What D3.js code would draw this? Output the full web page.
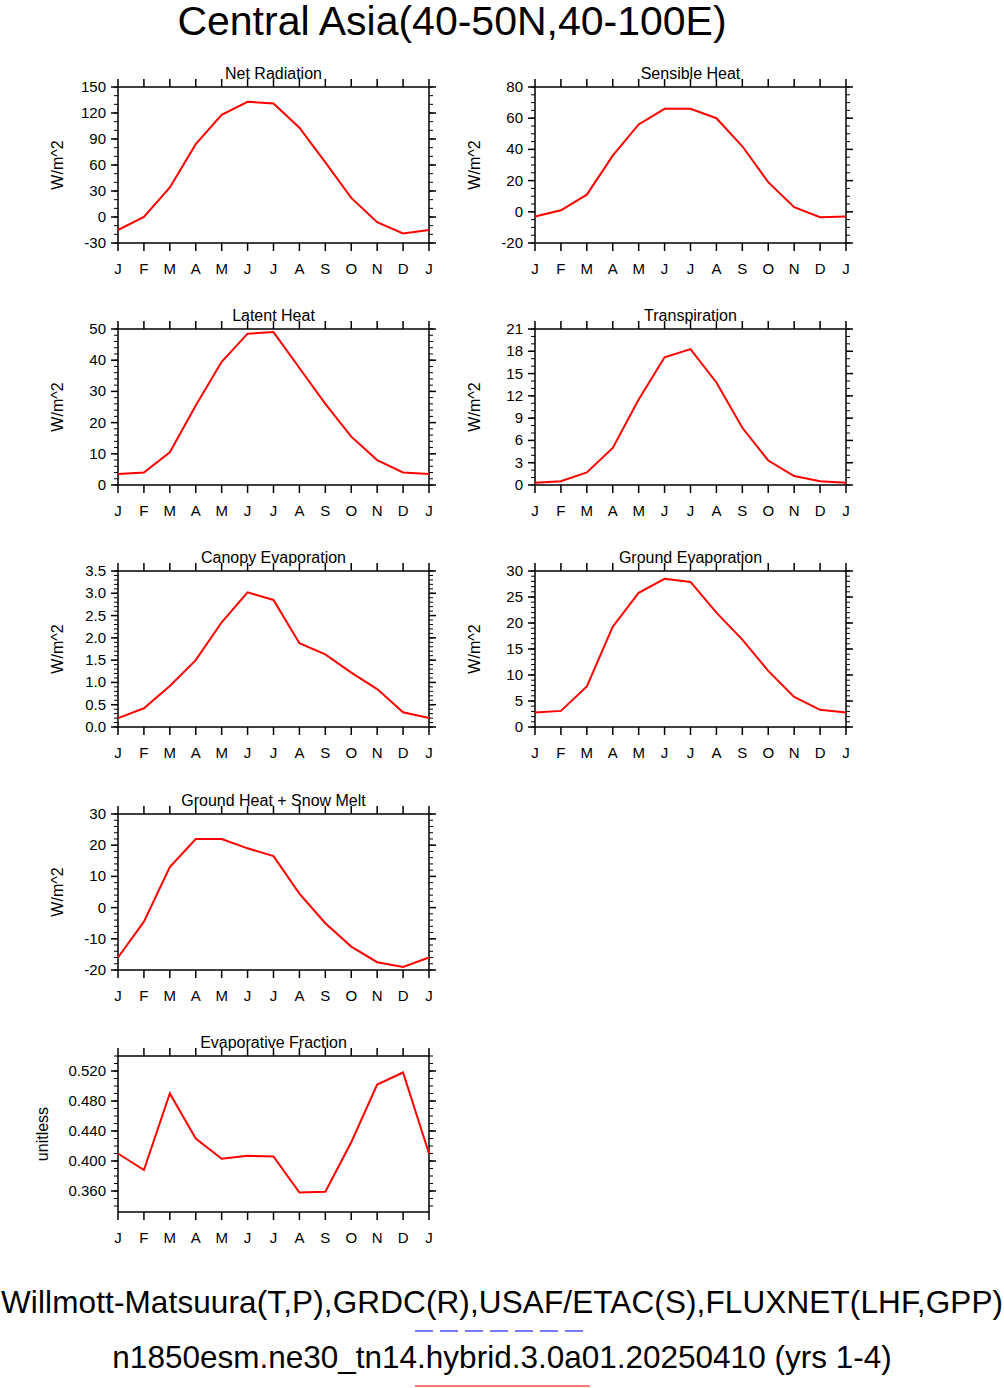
<!DOCTYPE html>
<html><head><meta charset="utf-8">
<script src="https://cdn.jsdelivr.net/npm/d3@7"></script>
<style>body{margin:0;background:#fff}text{font-family:Helvetica,"Liberation Sans",Arial,sans-serif}</style>
</head><body>
<script>
const months = ['J','F','M','A','M','J','J','A','S','O','N','D','J'];
const netRad = [-15, 0, 34, 84, 118, 133, 131, 103, 63, 22, -6, -19, -15];
const sensible = [-3, 1, 11, 36, 56, 66, 66, 60, 42, 19, 3, -3.5, -3];
const latent = [3.5, 4, 10.5, 25.5, 39.5, 48.5, 49, 37.5, 26, 15.5, 8, 4, 3.5];
const transp = [0.3, 0.5, 1.7, 5, 11.5, 17.2, 18.3, 13.8, 7.7, 3.3, 1.2, 0.5, 0.3];
const canopy = [0.2, 0.42, 0.92, 1.5, 2.35, 3.02, 2.85, 1.88, 1.63, 1.22, 0.85, 0.33, 0.2];
const groundEvap = [2.8, 3.1, 7.8, 19.3, 25.8, 28.5, 27.9, 22, 16.8, 10.8, 5.8, 3.3, 2.8];
const groundHeat = [-16, -4.5, 13, 22, 22, 19, 16.5, 4.5, -5, -12.5, -17.5, -19, -16];
const evapFrac = [0.410, 0.388, 0.490, 0.430, 0.403, 0.407, 0.406, 0.358, 0.359, 0.425, 0.502, 0.518, 0.410];

const fd = v => d3.format('d')(v).replace('\u2212','-');
const panels = [
  {title:'Net Radiation', data:netRad, dom:[-30,150], step:30, minor:10, fmt:fd, col:0, row:0, yl:'W/m^2'},
  {title:'Sensible Heat', data:sensible, dom:[-20,80], step:20, minor:5, fmt:fd, col:1, row:0, yl:'W/m^2'},
  {title:'Latent Heat', data:latent, dom:[0,50], step:10, minor:2, fmt:fd, col:0, row:1, yl:'W/m^2'},
  {title:'Transpiration', data:transp, dom:[0,21], step:3, minor:1, fmt:fd, col:1, row:1, yl:'W/m^2'},
  {title:'Canopy Evaporation', data:canopy, dom:[0,3.5], step:0.5, minor:0.1, fmt:d3.format('.1f'), col:0, row:2, yl:'W/m^2'},
  {title:'Ground Evaporation', data:groundEvap, dom:[0,30], step:5, minor:1, fmt:fd, col:1, row:2, yl:'W/m^2'},
  {title:'Ground Heat + Snow Melt', data:groundHeat, dom:[-20,30], step:10, minor:2, fmt:fd, col:0, row:3, yl:'W/m^2'},
  {title:'Evaporative Fraction', data:evapFrac, dom:[0.332,0.540], step:0.04, minor:0.01, fmt:d3.format('.3f'), col:0, row:4, yl:'unitless', t0:0.36}
];

const svg = d3.select('body').append('svg').attr('width',1004).attr('height',1388);
svg.append('text').attr('x',452).attr('y',35).attr('text-anchor','middle').attr('font-size',41).text('Central Asia(40-50N,40-100E)');

const colX = [118, 535], rowY = [87, 329, 571, 814, 1056], W = 311, H = 156;

panels.forEach(p => {
  const g = svg.append('g').attr('transform', `translate(${colX[p.col]},${rowY[p.row]})`);
  const x = d3.scaleLinear().domain([0,12]).range([0,W]);
  const y = d3.scaleLinear().domain(p.dom).range([H,0]);
  const t0 = p.t0 !== undefined ? p.t0 : p.dom[0];
  const majors = d3.range(t0, p.dom[1] + 1e-9, p.step).map(v => +v.toFixed(4));
  const minors = d3.range(Math.ceil(p.dom[0]/p.minor - 1e-6)*p.minor, p.dom[1] + 1e-9, p.minor).map(v => +v.toFixed(4));
  const xi = d3.range(13);
  const tk = g.append('g').attr('stroke','#000').attr('stroke-width',1.5);
  xi.forEach(i => {
    tk.append('line').attr('x1',x(i)).attr('x2',x(i)).attr('y1',H).attr('y2',H+8);
    tk.append('line').attr('x1',x(i)).attr('x2',x(i)).attr('y1',0).attr('y2',-8);
  });
  minors.forEach(v => {
    tk.append('line').attr('x1',-4).attr('x2',0).attr('y1',y(v)).attr('y2',y(v)).attr('stroke-width',1);
    tk.append('line').attr('x1',W).attr('x2',W+4).attr('y1',y(v)).attr('y2',y(v)).attr('stroke-width',1);
  });
  majors.forEach(v => {
    tk.append('line').attr('x1',-7).attr('x2',0).attr('y1',y(v)).attr('y2',y(v));
    tk.append('line').attr('x1',W).attr('x2',W+7).attr('y1',y(v)).attr('y2',y(v));
    g.append('text').attr('x',-12).attr('y',y(v)+5).attr('text-anchor','end').attr('font-size',15).text(p.fmt(v));
  });
  xi.forEach(i => g.append('text').attr('x',x(i)).attr('y',H+31).attr('text-anchor','middle').attr('font-size',15).text(months[i]));
  g.append('rect').attr('width',W).attr('height',H).attr('fill','none').attr('stroke','#000').attr('stroke-width',1.5);
  g.append('path').datum(p.data).attr('fill','none').attr('stroke','#ff0000').attr('stroke-width',2)
    .attr('d', d3.line().x((d,i)=>x(i)).y(d=>y(d)));
  g.append('text').attr('x',W/2).attr('y',-8).attr('text-anchor','middle').attr('font-size',16).text(p.title);
  const ylx = p.yl === 'unitless' ? -70 : -55;
  g.append('text').attr('transform',`translate(${ylx},${H/2}) rotate(-90)`).attr('text-anchor','middle').attr('font-size',16).text(p.yl);
});

svg.append('text').attr('x',502).attr('y',1313).attr('text-anchor','middle').attr('font-size',31.5).attr('textLength',1002).text('Willmott-Matsuura(T,P),GRDC(R),USAF/ETAC(S),FLUXNET(LHF,GPP)');
svg.append('line').attr('x1',415).attr('x2',590).attr('y1',1331).attr('y2',1331).attr('stroke','#4d4dff').attr('stroke-width',1.5).attr('stroke-dasharray','18,7');
svg.append('text').attr('x',502).attr('y',1368).attr('text-anchor','middle').attr('font-size',31.5).text('n1850esm.ne30_tn14.hybrid.3.0a01.20250410 (yrs 1-4)');
svg.append('line').attr('x1',415).attr('x2',590).attr('y1',1386).attr('y2',1386).attr('stroke','#ff4d4d').attr('stroke-width',1.5);
</script>
</body></html>
